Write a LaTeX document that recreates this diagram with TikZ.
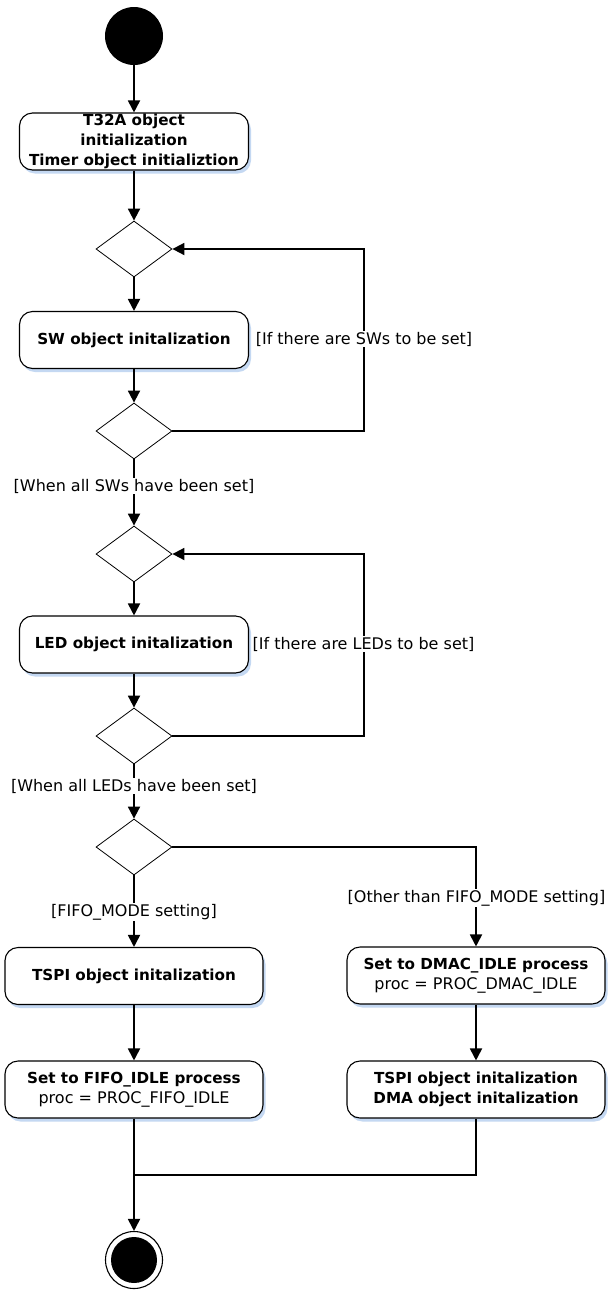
\documentclass[tikz,border=0pt]{standalone}
\usepackage{fontspec}
\setmainfont{DejaVu Sans}
\usetikzlibrary{shapes.geometric,arrows.meta,shadows}
\definecolor{shadowblue}{RGB}{196,216,242}
\begin{document}
\begin{tikzpicture}[x=1pt,y=-1pt,
  actbox/.style={draw,line width=1.1pt,rounded corners=13pt,fill=white,
    minimum width=229pt,minimum height=57pt,inner sep=1pt,align=center,
    font=\bfseries\fontsize{15.2}{20}\selectfont,
    drop shadow={shadow xshift=2.5pt,shadow yshift=-3.5pt,fill=shadowblue,opacity=1}},
  widebox/.style={actbox,minimum width=258pt},
  decision/.style={draw,diamond,line width=0.8pt,fill=white,minimum width=76pt,
    minimum height=56pt,inner sep=0pt},
  flow/.style={line width=1.8pt,-{Triangle[length=12pt,width=12pt]}},
  plain/.style={line width=1.8pt},
  guard/.style={fill=white,inner sep=1pt,font=\fontsize{16}{19}\selectfont}
]
\useasboundingbox (0,0) rectangle (608,1291);
\fill[white] (0,0) rectangle (608,1291);

% nodes
\node[circle,fill=black,minimum size=58pt,inner sep=0pt] (start) at (134,36) {};
\node[actbox] (t32a) at (134,141.5) {T32A object\\initialization\\Timer object initializtion};
\node[decision] (d1) at (134,249) {};
\node[actbox] (sw) at (134,340) {SW object initalization};
\node[decision] (d2) at (134,431) {};
\node[decision] (d3) at (134,554) {};
\node[actbox] (led) at (134,644.5) {LED object initalization};
\node[decision] (d4) at (134,736) {};
\node[decision] (d5) at (134,847) {};
\node[widebox] (tspi) at (134,976) {TSPI object initalization};
\node[widebox] (fifo) at (134,1089.5) {Set to FIFO\_IDLE process\\{\mdseries\fontsize{16}{20}\selectfont proc = PROC\_FIFO\_IDLE}};
\node[widebox] (dmac) at (476,975.5) {Set to DMAC\_IDLE process\\{\mdseries\fontsize{16}{20}\selectfont proc = PROC\_DMAC\_IDLE}};
\node[widebox] (dma) at (476,1089.5) {TSPI object initalization\\DMA object initalization};
\node[circle,draw,line width=1.1pt,minimum size=57pt,inner sep=0pt] (final) at (134,1260) {};
\node[circle,fill=black,minimum size=46pt,inner sep=0pt] (finalin) at (final.center) {};

% helper coordinates
\coordinate (l1b) at (364,431);
\coordinate (l1t) at (364,249);
\coordinate (l2b) at (364,736);
\coordinate (l2t) at (364,554);
\coordinate (br) at (476,847);
\coordinate (j1) at (134,1175);
\coordinate (j2) at (476,1175);

% connectors
\draw[flow] (start) -- (t32a);
\draw[flow] (t32a) -- (d1);
\draw[flow] (d1) -- (sw);
\draw[flow] (sw) -- (d2);
\draw[flow] (d2) -- (d3);
\draw[flow] (d2.east) -- (l1b) -- (l1t) -- (d1.east);
\draw[flow] (d3) -- (led);
\draw[flow] (led) -- (d4);
\draw[flow] (d4) -- (d5);
\draw[flow] (d4.east) -- (l2b) -- (l2t) -- (d3.east);
\draw[flow] (d5) -- (tspi);
\draw[flow] (d5.east) -- (br) -- (dmac.north);
\draw[flow] (tspi) -- (fifo);
\draw[flow] (dmac) -- (dma);
\draw[plain] (dma.south) -- (j2) -- (j1);
\draw[flow] (fifo.south) -- (final.north);

% guards
\node[guard] (g1) at (364,339) {[If there are SWs to be set]};
\node[guard] (g2) at (134,486) {[When all SWs have been set]};
\node[guard] (g3) at (363.5,644) {[If there are LEDs to be set]};
\node[guard] (g4) at (134,786) {[When all LEDs have been set]};
\node[guard] (g5) at (134,912) {[FIFO\_MODE setting]};
\node[guard] (g6) at (476.5,898) {[Other than FIFO\_MODE setting]};
\end{tikzpicture}
\end{document}
